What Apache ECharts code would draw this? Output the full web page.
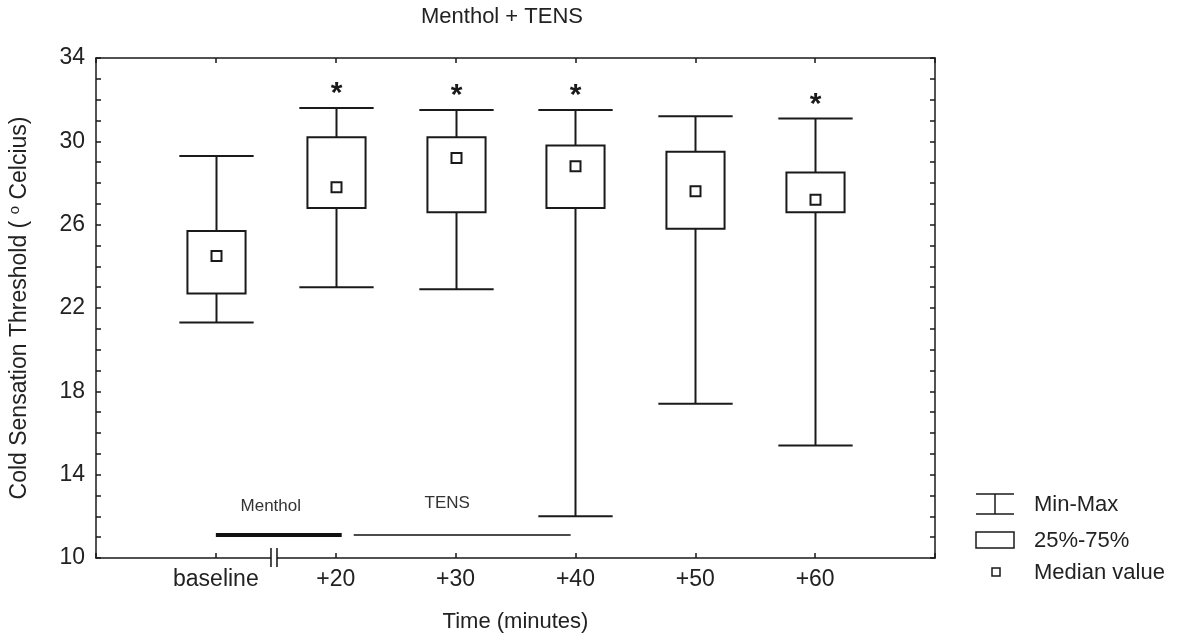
<!DOCTYPE html>
<html>
<head>
<meta charset="utf-8">
<script src="https://cdn.jsdelivr.net/npm/echarts@6/dist/echarts.min.js"></script>
<style>html,body{margin:0;padding:0;background:#fff}#c{width:1181px;height:640px}</style>
</head>
<body>
<div id="c"></div>
<script>
// ---- data ----
const categories = ['baseline', '+20', '+30', '+40', '+50', '+60'];
const minVals    = [21.3, 23.0, 22.9, 12.0, 17.4, 15.4];
const q1Vals     = [22.7, 26.8, 26.6, 26.8, 25.8, 26.6];
const medianVals = [24.5, 27.8, 29.2, 28.8, 27.6, 27.2];
const q3Vals     = [25.7, 30.2, 30.2, 29.8, 29.5, 28.5];
const maxVals    = [29.3, 31.6, 31.5, 31.5, 31.2, 31.1];
const significant = [0, 1, 1, 1, 0, 1];
const yTicks = [10, 14, 18, 22, 26, 30, 34];
const phaseNames = ['Menthol', 'TENS'];
const phaseStart = [1.0, 2.15];
const phaseEnd   = [2.05, 3.96];

const FONT = 'Liberation Sans, Arial, sans-serif';
const INK = '#1a1a1a';
const TXT = '#222';

const boxData = categories.map((c, i) => [i + 1, minVals[i], q1Vals[i], medianVals[i], q3Vals[i], maxVals[i], significant[i]]);
const phaseData = phaseNames.map((n, i) => [phaseStart[i], phaseEnd[i], i]);

const chart = echarts.init(document.getElementById('c'), null, {renderer: 'canvas'});

function boxRender(params, api) {
  const x = api.value(0);
  const pMin = api.coord([x, api.value(1)]);
  const pQ1 = api.coord([x, api.value(2)]);
  const pMed = api.coord([x, api.value(3)]);
  const pQ3 = api.coord([x, api.value(4)]);
  const pMax = api.coord([x, api.value(5)]);
  const unit = api.size([1, 0])[0];
  const bw = unit * 0.485, cw = unit * 0.62;
  const cx = Math.round(pMed[0]) + 0.5;
  const ls = {stroke: INK, lineWidth: 2, fill: null};
  const children = [
    {type: 'line', shape: {x1: cx, y1: pMax[1], x2: cx, y2: pQ3[1]}, style: ls},
    {type: 'line', shape: {x1: cx, y1: pQ1[1], x2: cx, y2: pMin[1]}, style: ls},
    {type: 'line', shape: {x1: cx - cw / 2, y1: pMax[1], x2: cx + cw / 2, y2: pMax[1]}, style: ls},
    {type: 'line', shape: {x1: cx - cw / 2, y1: pMin[1], x2: cx + cw / 2, y2: pMin[1]}, style: ls},
    {type: 'rect', shape: {x: cx - bw / 2, y: pQ3[1], width: bw, height: pQ1[1] - pQ3[1]}, style: {stroke: INK, lineWidth: 2, fill: '#fff'}},
    {type: 'rect', shape: {x: cx - 5, y: pMed[1] - 5, width: 10, height: 10}, style: {stroke: INK, lineWidth: 2, fill: '#fff'}}
  ];
  if (api.value(6)) {
    children.push({type: 'text', style: {text: '*', x: cx, y: pMax[1] - 14, align: 'center', verticalAlign: 'middle', font: 'bold 30px ' + FONT, fill: INK}});
  }
  return {type: 'group', children};
}

function phaseRender(params, api) {
  const y = 11.1;
  const a = api.coord([api.value(0), y]);
  const b = api.coord([api.value(1), y]);
  const idx = api.value(2);
  const thick = idx === 0;
  const children = [
    {type: 'line', shape: {x1: a[0], y1: a[1], x2: b[0], y2: b[1]}, style: {stroke: '#111', lineWidth: thick ? 4 : 1.5}},
    {type: 'text', style: {text: phaseNames[idx], x: (a[0] + b[0]) / 2 + (thick ? -8 : -15), y: a[1] - (thick ? 29 : 32), align: 'center', verticalAlign: 'middle', font: '17px ' + FONT, fill: '#333'}}
  ];
  if (thick) {
    // axis break mark on the x axis
    const base = api.coord([1.485, 10]);
    children.push(
      {type: 'rect', shape: {x: base[0] - 3, y: base[1] - 2, width: 6, height: 4}, style: {fill: '#fff'}},
      {type: 'line', shape: {x1: base[0] - 3, y1: base[1] - 10, x2: base[0] - 3, y2: base[1] + 9}, style: {stroke: '#111', lineWidth: 1.5}},
      {type: 'line', shape: {x1: base[0] + 3, y1: base[1] - 10, x2: base[0] + 3, y2: base[1] + 9}, style: {stroke: '#111', lineWidth: 1.5}}
    );
  }
  return {type: 'group', children};
}

const axisLine = {show: true, onZero: false, lineStyle: {color: INK, width: 1.5}};
const tickIn = {show: true, inside: true, length: 5, lineStyle: {color: INK, width: 1.5}};

const option = {
  backgroundColor: '#fff',
  animation: false,
  grid: {left: 96, right: 246, top: 58, bottom: 82, containLabel: false, outerBoundsMode: 'none'},
  xAxis: [
    {type: 'value', min: 0, max: 7, interval: 1, position: 'bottom',
     name: 'Time (minutes)', nameLocation: 'middle', nameGap: 53,
     nameTextStyle: {fontFamily: FONT, fontSize: 22, color: TXT},
     axisLine, axisTick: tickIn, splitLine: {show: false},
     axisLabel: {margin: 10, fontFamily: FONT, fontSize: 23, color: TXT,
       formatter: v => categories[v - 1] || ''}},
    {type: 'value', min: 0, max: 7, interval: 1, position: 'top',
     axisLine, axisTick: tickIn, splitLine: {show: false}, axisLabel: {show: false}}
  ],
  yAxis: [
    {type: 'value', min: yTicks[0], max: yTicks[yTicks.length - 1], interval: 4, position: 'left',
     name: 'Cold Sensation Threshold ( {sup|o} Celcius)', nameLocation: 'middle', nameGap: 64,
     nameTextStyle: {fontFamily: FONT, fontSize: 23, color: TXT,
       rich: {sup: {fontFamily: FONT, fontSize: 15, color: TXT, padding: [0, 0, 10, 0]}}},
     axisLine, axisTick: tickIn,
     minorTick: {show: true, splitNumber: 4, length: 5, lineStyle: {color: INK, width: 1.5}},
     splitLine: {show: false},
     axisLabel: {margin: 11, fontFamily: FONT, fontSize: 23, color: TXT}},
    {type: 'value', min: yTicks[0], max: yTicks[yTicks.length - 1], interval: 4, position: 'right',
     axisLine, axisTick: tickIn,
     minorTick: {show: true, splitNumber: 4, length: 5, lineStyle: {color: INK, width: 1.5}},
     splitLine: {show: false}, axisLabel: {show: false}}
  ],
  series: [
    {type: 'custom', xAxisIndex: 0, yAxisIndex: 0, renderItem: phaseRender, data: phaseData, clip: false, z: 3},
    {type: 'custom', xAxisIndex: 0, yAxisIndex: 0, renderItem: boxRender, data: boxData, clip: false, z: 4}
  ],
  graphic: [
    {type: 'text', x: 502, y: 17, style: {text: 'Menthol + TENS', font: '22px ' + FONT, fill: TXT, align: 'center', verticalAlign: 'middle'}},
    // legend
    {type: 'line', shape: {x1: 976, y1: 494, x2: 1014, y2: 494}, style: {stroke: INK, lineWidth: 1.5}},
    {type: 'line', shape: {x1: 976, y1: 514, x2: 1014, y2: 514}, style: {stroke: INK, lineWidth: 1.5}},
    {type: 'line', shape: {x1: 995, y1: 494, x2: 995, y2: 514}, style: {stroke: INK, lineWidth: 1.5}},
    {type: 'text', x: 1034, y: 505, style: {text: 'Min-Max', font: '22px ' + FONT, fill: TXT, verticalAlign: 'middle'}},
    {type: 'rect', shape: {x: 976, y: 532, width: 38, height: 16}, style: {stroke: INK, lineWidth: 1.5, fill: '#fff'}},
    {type: 'text', x: 1034, y: 541, style: {text: '25%-75%', font: '22px ' + FONT, fill: TXT, verticalAlign: 'middle'}},
    {type: 'rect', shape: {x: 992, y: 568, width: 8, height: 8}, style: {stroke: INK, lineWidth: 1.5, fill: '#fff'}},
    {type: 'text', x: 1034, y: 573, style: {text: 'Median value', font: '22px ' + FONT, fill: TXT, verticalAlign: 'middle'}}
  ]
};
chart.setOption(option);
</script>
</body>
</html>
